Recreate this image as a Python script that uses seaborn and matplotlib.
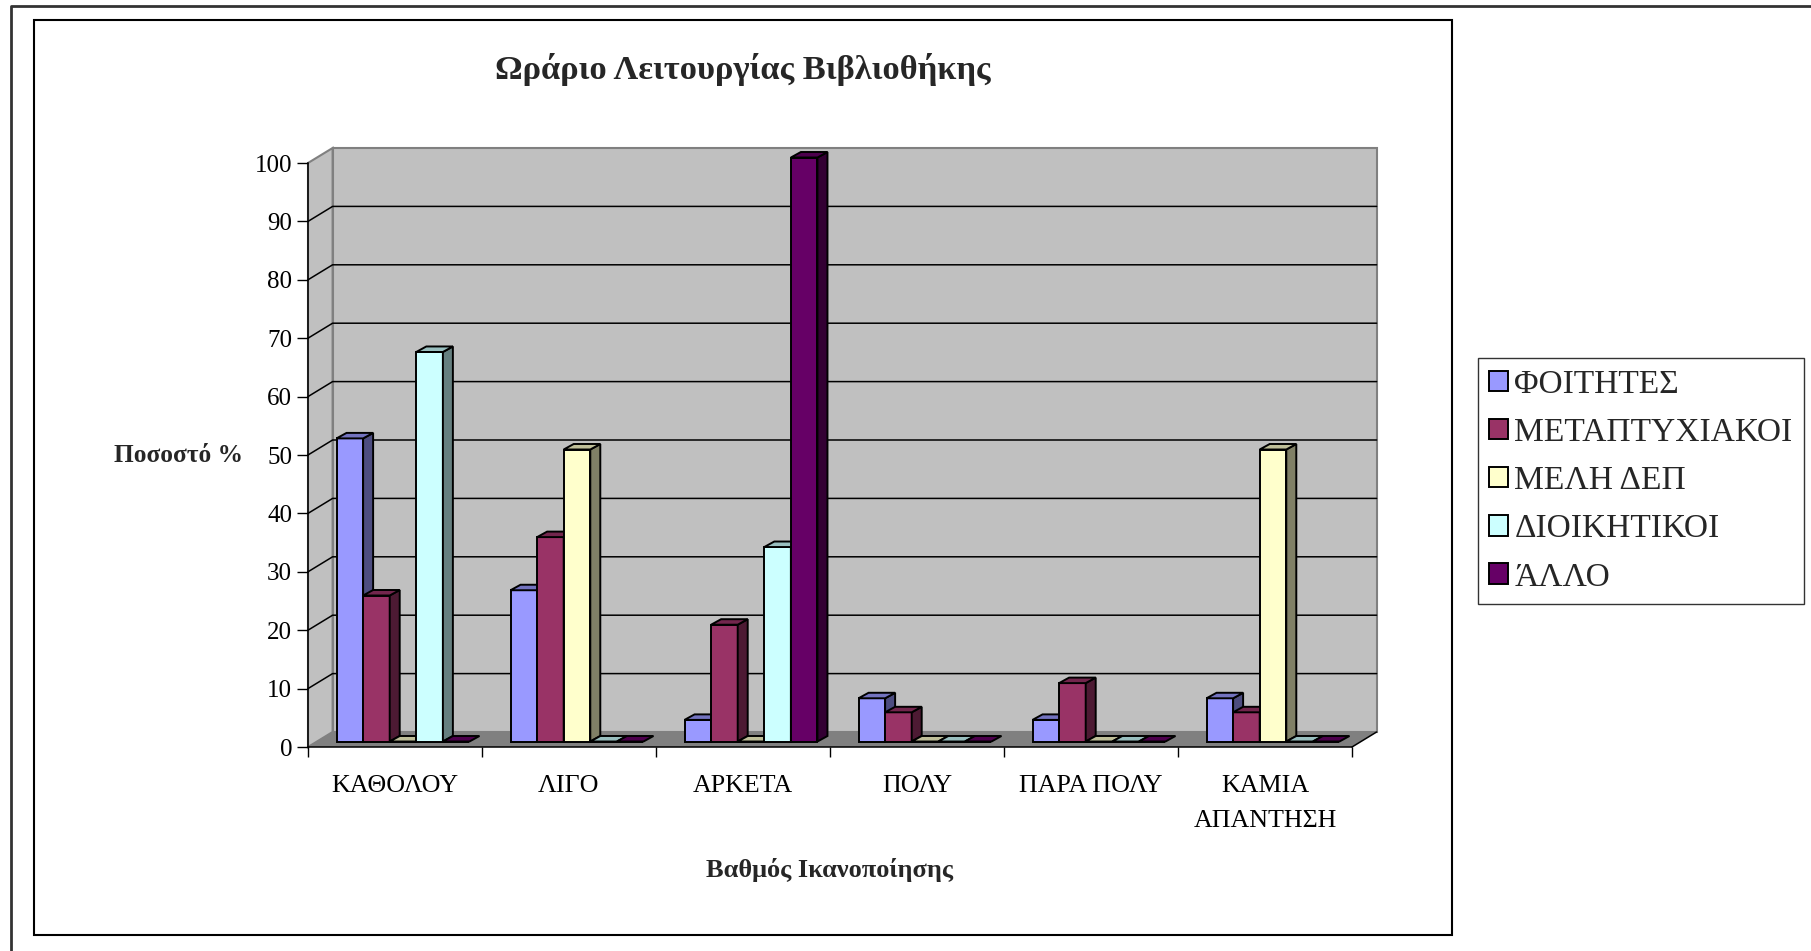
import numpy as np
import pandas as pd
import seaborn as sns
import matplotlib.pyplot as plt
from matplotlib.patches import Polygon, Rectangle, Patch
from matplotlib.lines import Line2D
from matplotlib.colors import to_rgb

categories = ['ΚΑΘΟΛΟΥ', 'ΛΙΓΟ', 'ΑΡΚΕΤΑ', 'ΠΟΛΥ', 'ΠΑΡΑ ΠΟΛΥ', 'ΚΑΜΙΑ\nΑΠΑΝΤΗΣΗ']
groups = ['ΦΟΙΤΗΤΕΣ', 'ΜΕΤΑΠΤΥΧΙΑΚΟΙ', 'ΜΕΛΗ ΔΕΠ', 'ΔΙΟΙΚΗΤΙΚΟΙ', 'ΆΛΛΟ']
foitites = [51.9, 25.9, 3.7, 7.4, 3.7, 7.4]
metaptyxiakoi = [25, 35, 20, 5, 10, 5]
meli_dep = [0, 50, 0, 0, 0, 50]
dioikitikoi = [66.7, 0, 33.3, 0, 0, 0]
allo = [0, 0, 100, 0, 0, 0]
colors = ['#9999FF', '#993366', '#FFFFCC', '#CCFFFF', '#660066']

series = [foitites, metaptyxiakoi, meli_dep, dioikitikoi, allo]
rows = []
for g, vals in zip(groups, series):
    for c, v in zip(categories, vals):
        rows.append((c, g, v))
df = pd.DataFrame(rows, columns=['cat', 'grp', 'val'])

sns.set_theme(style='white')
plt.rcParams['font.family'] = ['Liberation Serif', 'DejaVu Serif']

W, H = 1811, 951
fig = plt.figure(figsize=(W / 100, H / 100), dpi=100)
# front plane of the 3d box, in pixels
L, R, B, T = 308, 1352, 747, 163
ax = fig.add_axes([L / W, 1 - B / H, (R - L) / W, (B - T) / H])

sns.barplot(data=df, x='cat', y='val', hue='grp', order=categories,
            hue_order=groups, palette=colors, saturation=1, width=0.764,
            errorbar=None, edgecolor='black', linewidth=1.4, legend=False, ax=ax)
bars = list(ax.patches)

ax.set_xlim(-0.5, 5.5)
ax.set_ylim(0, 100)
ax.patch.set_visible(False)

# pixel -> data conversions for the fake depth
pxx = (R - L) / 6
pxy = (B - T) / 100
DX, DY = 24.6 / pxx, 15 / pxy      # wall depth
FX, FY = 8 / pxx, 5.5 / pxy        # bar front offset
BX, BY = 10 / pxx, 5.5 / pxy       # bar depth

def shade(c, f):
    r, g, b = to_rgb(c)[:3]
    return (r * f, g * f, b * f)

# walls and floor
ax.add_patch(Rectangle((-0.5 + DX, DY), 6, 100, fc='#C0C0C0', ec='#808080',
                       lw=1.5, zorder=0.2, clip_on=False))
ax.add_patch(Polygon([(-0.5, 0), (-0.5, 100), (-0.5 + DX, 100 + DY), (-0.5 + DX, DY)],
                     fc='#C0C0C0', ec='#808080', lw=1.5, zorder=0.2, clip_on=False))
ax.add_patch(Polygon([(-0.5, 0), (5.5, 0), (5.5 + DX, DY), (-0.5 + DX, DY)],
                     fc='#808080', ec='none', zorder=0.3, clip_on=False))
for y in range(10, 100, 10):
    ax.plot([-0.5, -0.5 + DX, 5.5 + DX], [y, y + DY, y + DY], color='black',
            lw=1.1, zorder=0.5, clip_on=False)
ax.plot([5.5, 5.5 + DX], [0, DY], color='black', lw=1.1, zorder=0.5, clip_on=False)

# 3d faces for every bar
for p in bars:
    x0 = p.get_x() + FX
    w = p.get_width()
    h = p.get_height()
    fc = p.get_facecolor()
    z = 3 + (x0 + 1) * 0.1
    p.set_x(x0)
    p.set_y(FY)
    p.set_zorder(z)
    p.set_clip_on(False)
    if h > 0:
        ax.add_patch(Polygon([(x0 + w, FY), (x0 + w + BX, FY + BY),
                              (x0 + w + BX, FY + h + BY), (x0 + w, FY + h)],
                             fc=shade(fc, 0.5), ec='black', lw=1.4, zorder=z, clip_on=False))
    ax.add_patch(Polygon([(x0, FY + h), (x0 + w, FY + h), (x0 + w + BX, FY + h + BY),
                          (x0 + BX, FY + h + BY)],
                         fc=shade(fc, 0.75), ec='black', lw=1.4, zorder=z, clip_on=False))

# axes, ticks, labels
sns.despine(ax=ax, top=True, right=True)
for s in ['left', 'bottom']:
    ax.spines[s].set_color('black')
    ax.spines[s].set_linewidth(1.1)
    ax.spines[s].set_zorder(1)
ax.set_yticks(range(0, 101, 10))
ax.tick_params(axis='y', left=True, length=7.9, width=1, pad=3.6, labelsize=18,
               colors='black')
ax.set_xticks(range(6))
ax.set_xticklabels(categories)
ax.set_xticks(np.arange(-0.5, 6, 1), minor=True)
ax.tick_params(axis='x', which='major', bottom=True, length=0, pad=20, labelsize=18.7,
               colors='black')
ax.tick_params(axis='x', which='minor', bottom=True, length=7.2, width=1, color='black')
for lbl in ax.get_xticklabels():
    lbl.set_linespacing(1.75)

ax.set_xlabel('Βαθμός Ικανοποίησης', fontsize=19, fontweight='bold', va='center')
ax.xaxis.set_label_coords(0.5, (B - 870) / (B - T))
ax.set_ylabel('Ποσοστό %', fontsize=18.3, fontweight='bold', rotation=0,
              ha='center', va='center')
ax.yaxis.set_label_coords((179 - L) / (R - L), (B - 455) / (B - T))

fig.text(743 / W, 1 - 70 / H, 'Ωράριο Λειτουργίας Βιβλιοθήκης', fontsize=24.8,
         fontweight='bold', ha='center', va='center')

handles = [Patch(fc=c, ec='black', lw=1.4) for c in colors]
leg = fig.legend(handles, groups, loc='upper left',
                 bbox_to_anchor=(1478 / W, 1 - 358 / H), frameon=True,
                 fancybox=False, edgecolor='black', fontsize=24.1,
                 handlelength=0.56, handleheight=0.56, handletextpad=0.2,
                 labelspacing=0.53, borderpad=0.33, borderaxespad=0)
leg.get_frame().set_linewidth(1)

# chart frame and outer page frame
fig.add_artist(Rectangle((34 / W, 1 - 935 / H), (1452 - 34) / W, (935 - 20) / H,
                         transform=fig.transFigure, fill=False, ec='black', lw=1.5))
fig.add_artist(Line2D([11 / W, 11 / W, 1], [0, 1 - 6 / H, 1 - 6 / H],
                      transform=fig.transFigure, color='#333333', lw=2))

fig.savefig('out.png', dpi=100, facecolor='white')
